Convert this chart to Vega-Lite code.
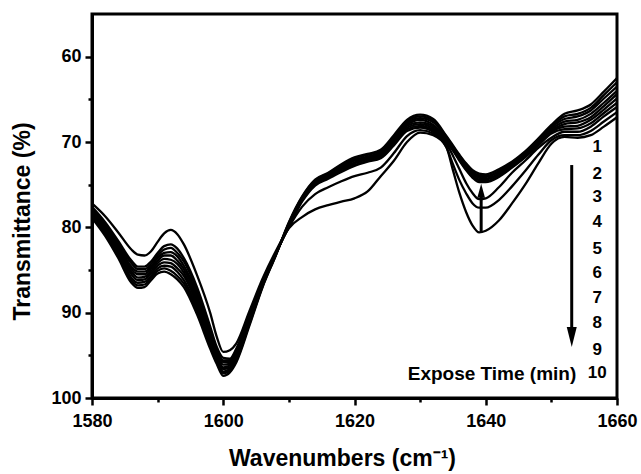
{
  "$schema": "https://vega.github.io/schema/vega-lite/v6.json",
  "width": 525,
  "height": 384,
  "autosize": "none",
  "padding": {"left": 92, "top": 14, "right": 24, "bottom": 76},
  "background": "white",
  "config": {"view": {"stroke": "black", "strokeWidth": 3}, "font": "Liberation Sans"},
  "layer": [
    {
      "data": {"values": [
        {"x":1580,"c1":77.2,"c2":77.6,"c3":77.8,"c4":77.9,"c5":78.1,"c6":78.3,"c7":78.4,"c8":78.6,"c9":78.7,"c10":78.9},
        {"x":1582,"c1":78.7,"c2":79.4,"c3":79.6,"c4":79.8,"c5":80.0,"c6":80.2,"c7":80.4,"c8":80.6,"c9":80.8,"c10":81.0},
        {"x":1584,"c1":80.6,"c2":81.6,"c3":81.9,"c4":82.1,"c5":82.4,"c6":82.6,"c7":82.9,"c8":83.1,"c9":83.4,"c10":83.6},
        {"x":1586,"c1":82.6,"c2":83.9,"c3":84.2,"c4":84.6,"c5":84.9,"c6":85.2,"c7":85.5,"c8":85.9,"c9":86.2,"c10":86.5},
        {"x":1587,"c1":83.2,"c2":84.6,"c3":84.9,"c4":85.2,"c5":85.5,"c6":85.9,"c7":86.2,"c8":86.5,"c9":86.8,"c10":87.1},
        {"x":1588,"c1":83.3,"c2":84.6,"c3":84.9,"c4":85.2,"c5":85.5,"c6":85.8,"c7":86.1,"c8":86.4,"c9":86.7,"c10":87.0},
        {"x":1589,"c1":82.8,"c2":84.0,"c3":84.3,"c4":84.6,"c5":84.8,"c6":85.1,"c7":85.4,"c8":85.7,"c9":85.9,"c10":86.2},
        {"x":1590,"c1":81.7,"c2":83.0,"c3":83.3,"c4":83.6,"c5":83.9,"c6":84.2,"c7":84.5,"c8":84.8,"c9":85.1,"c10":85.4},
        {"x":1591,"c1":80.7,"c2":82.2,"c3":82.6,"c4":83.0,"c5":83.3,"c6":83.7,"c7":84.1,"c8":84.5,"c9":84.8,"c10":85.2},
        {"x":1592,"c1":80.3,"c2":82.0,"c3":82.4,"c4":82.9,"c5":83.3,"c6":83.8,"c7":84.2,"c8":84.6,"c9":85.1,"c10":85.5},
        {"x":1593,"c1":80.8,"c2":82.5,"c3":83.0,"c4":83.4,"c5":83.9,"c6":84.3,"c7":84.8,"c8":85.2,"c9":85.7,"c10":86.1},
        {"x":1594,"c1":82.0,"c2":83.6,"c3":84.0,"c4":84.5,"c5":84.9,"c6":85.3,"c7":85.7,"c8":86.2,"c9":86.6,"c10":87.0},
        {"x":1596,"c1":85.6,"c2":87.0,"c3":87.4,"c4":87.8,"c5":88.2,"c6":88.6,"c7":89.0,"c8":89.4,"c9":89.8,"c10":90.2},
        {"x":1598,"c1":90.0,"c2":91.6,"c3":91.9,"c4":92.3,"c5":92.6,"c6":92.9,"c7":93.2,"c8":93.6,"c9":93.9,"c10":94.2},
        {"x":1599,"c1":92.8,"c2":94.0,"c3":94.3,"c4":94.5,"c5":94.8,"c6":95.0,"c7":95.3,"c8":95.5,"c9":95.8,"c10":96.0},
        {"x":1600,"c1":94.6,"c2":95.3,"c3":95.6,"c4":95.8,"c5":96.1,"c6":96.4,"c7":96.6,"c8":96.9,"c9":97.1,"c10":97.4},
        {"x":1601,"c1":94.4,"c2":95.4,"c3":95.6,"c4":95.8,"c5":96.0,"c6":96.2,"c7":96.4,"c8":96.6,"c9":96.8,"c10":97.0},
        {"x":1602,"c1":93.6,"c2":94.2,"c3":94.4,"c4":94.6,"c5":94.8,"c6":95.0,"c7":95.2,"c8":95.4,"c9":95.6,"c10":95.8},
        {"x":1604,"c1":89.8,"c2":90.2,"c3":90.4,"c4":90.5,"c5":90.7,"c6":90.9,"c7":91.0,"c8":91.2,"c9":91.3,"c10":91.5},
        {"x":1606,"c1":86.0,"c2":86.3,"c3":86.4,"c4":86.5,"c5":86.6,"c6":86.7,"c7":86.7,"c8":86.8,"c9":86.9,"c10":87.0},
        {"x":1608,"c1":82.8,"c2":83.0,"c3":83.0,"c4":83.1,"c5":83.1,"c6":83.2,"c7":83.2,"c8":83.2,"c9":83.3,"c10":83.3},
        {"x":1610,"c1":80.1,"c2":80.0,"c3":79.9,"c4":79.9,"c5":79.8,"c6":79.7,"c7":79.6,"c8":79.6,"c9":79.5,"c10":79.4},
        {"x":1612,"c1":78.8,"c2":77.6,"c3":77.0,"c4":76.9,"c5":76.8,"c6":76.7,"c7":76.7,"c8":76.6,"c9":76.5,"c10":76.4},
        {"x":1614,"c1":77.9,"c2":76.1,"c3":75.1,"c4":75.0,"c5":74.9,"c6":74.8,"c7":74.7,"c8":74.6,"c9":74.5,"c10":74.4},
        {"x":1616,"c1":77.4,"c2":75.3,"c3":74.3,"c4":74.2,"c5":74.1,"c6":74.0,"c7":73.9,"c8":73.8,"c9":73.7,"c10":73.6},
        {"x":1618,"c1":77.0,"c2":74.6,"c3":73.5,"c4":73.4,"c5":73.2,"c6":73.1,"c7":73.0,"c8":72.9,"c9":72.7,"c10":72.6},
        {"x":1620,"c1":76.6,"c2":74.0,"c3":72.8,"c4":72.7,"c5":72.5,"c6":72.4,"c7":72.2,"c8":72.1,"c9":71.9,"c10":71.8},
        {"x":1622,"c1":75.8,"c2":73.6,"c3":72.3,"c4":72.2,"c5":72.0,"c6":71.9,"c7":71.8,"c8":71.7,"c9":71.5,"c10":71.4},
        {"x":1624,"c1":74.0,"c2":73.0,"c3":71.9,"c4":71.8,"c5":71.6,"c6":71.5,"c7":71.3,"c8":71.2,"c9":71.0,"c10":70.9},
        {"x":1626,"c1":72.2,"c2":71.3,"c3":70.4,"c4":70.2,"c5":70.1,"c6":69.9,"c7":69.7,"c8":69.5,"c9":69.4,"c10":69.2},
        {"x":1628,"c1":70.0,"c2":69.3,"c3":68.7,"c4":68.5,"c5":68.3,"c6":68.1,"c7":68.0,"c8":67.8,"c9":67.6,"c10":67.4},
        {"x":1630,"c1":68.9,"c2":68.6,"c3":68.3,"c4":68.1,"c5":67.9,"c6":67.7,"c7":67.4,"c8":67.2,"c9":67.0,"c10":66.8},
        {"x":1632,"c1":69.2,"c2":69.0,"c3":68.8,"c4":68.6,"c5":68.4,"c6":68.2,"c7":68.0,"c8":67.7,"c9":67.5,"c10":67.3},
        {"x":1634,"c1":70.6,"c2":70.6,"c3":70.2,"c4":70.0,"c5":69.9,"c6":69.8,"c7":69.7,"c8":69.5,"c9":69.4,"c10":69.3},
        {"x":1635,"c1":73.3,"c2":72.6,"c3":71.6,"c4":71.0,"c5":70.9,"c6":70.8,"c7":70.7,"c8":70.6,"c9":70.5,"c10":70.4},
        {"x":1636,"c1":76.0,"c2":74.5,"c3":73.2,"c4":72.2,"c5":72.1,"c6":72.0,"c7":71.9,"c8":71.7,"c9":71.6,"c10":71.5},
        {"x":1637,"c1":78.2,"c2":76.0,"c3":74.8,"c4":73.3,"c5":73.2,"c6":73.0,"c7":72.9,"c8":72.8,"c9":72.6,"c10":72.5},
        {"x":1638,"c1":79.8,"c2":77.2,"c3":76.0,"c4":74.2,"c5":74.1,"c6":73.9,"c7":73.8,"c8":73.6,"c9":73.5,"c10":73.3},
        {"x":1639,"c1":80.6,"c2":77.7,"c3":76.7,"c4":74.7,"c5":74.5,"c6":74.4,"c7":74.2,"c8":74.0,"c9":73.9,"c10":73.7},
        {"x":1640,"c1":80.4,"c2":77.7,"c3":76.6,"c4":74.7,"c5":74.6,"c6":74.4,"c7":74.3,"c8":74.1,"c9":74.0,"c10":73.8},
        {"x":1642,"c1":79.2,"c2":76.8,"c3":75.3,"c4":74.1,"c5":74.0,"c6":73.8,"c7":73.7,"c8":73.5,"c9":73.4,"c10":73.2},
        {"x":1644,"c1":77.2,"c2":75.2,"c3":73.6,"c4":73.0,"c5":72.9,"c6":72.8,"c7":72.7,"c8":72.5,"c9":72.4,"c10":72.3},
        {"x":1646,"c1":75.0,"c2":73.4,"c3":72.2,"c4":71.8,"c5":71.7,"c6":71.6,"c7":71.5,"c8":71.3,"c9":71.2,"c10":71.1},
        {"x":1648,"c1":72.5,"c2":71.5,"c3":70.7,"c4":70.4,"c5":70.3,"c6":70.1,"c7":70.0,"c8":69.9,"c9":69.7,"c10":69.6},
        {"x":1650,"c1":70.2,"c2":69.8,"c3":69.5,"c4":69.0,"c5":68.8,"c6":68.7,"c7":68.5,"c8":68.3,"c9":68.2,"c10":68.0},
        {"x":1652,"c1":69.4,"c2":69.2,"c3":68.8,"c4":68.5,"c5":68.2,"c6":67.9,"c7":67.6,"c8":67.3,"c9":67.0,"c10":66.7},
        {"x":1654,"c1":69.5,"c2":69.2,"c3":68.8,"c4":68.4,"c5":68.1,"c6":67.7,"c7":67.4,"c8":67.0,"c9":66.7,"c10":66.3},
        {"x":1656,"c1":69.2,"c2":68.7,"c3":68.2,"c4":67.8,"c5":67.4,"c6":67.1,"c7":66.7,"c8":66.3,"c9":66.0,"c10":65.6},
        {"x":1658,"c1":68.2,"c2":67.6,"c3":67.0,"c4":66.6,"c5":66.2,"c6":65.8,"c7":65.4,"c8":64.9,"c9":64.5,"c10":64.1},
        {"x":1660,"c1":67.1,"c2":66.5,"c3":65.9,"c4":65.4,"c5":64.9,"c6":64.4,"c7":64.0,"c8":63.5,"c9":63.0,"c10":62.5}
      ]},
      "transform": [{"fold": ["c1","c2","c3","c4","c5","c6","c7","c8","c9","c10"], "as": ["curve", "T"]}],
      "mark": {"type": "line", "color": "black", "strokeWidth": 2.3, "interpolate": "monotone"},
      "encoding": {
        "x": {"field": "x", "type": "quantitative",
          "scale": {"domain": [1580, 1660], "nice": false, "zero": false},
          "axis": {
            "values": [1580,1590,1600,1610,1620,1630,1640,1650,1660],
            "format": "d",
            "labelExpr": "datum.value % 20 === 0 ? datum.label : ''",
            "tickSize": {"condition": {"test": "datum.value % 20 === 0", "value": 7}, "value": 4},
            "tickWidth": 2.5, "tickColor": "black",
            "domainWidth": 3, "domainColor": "black",
            "grid": false,
            "labelFont": "Liberation Sans", "labelFontSize": 18, "labelFontWeight": "bold", "labelColor": "black",
            "labelPadding": 7, "labelFlush": false,
            "title": "Wavenumbers (cm⁻¹)",
            "titleFont": "Liberation Sans", "titleFontSize": 23, "titleFontWeight": "bold", "titleColor": "black",
            "titlePadding": 17,
            "titleX": 250
          }
        },
        "y": {"field": "T", "type": "quantitative",
          "scale": {"domain": [55, 100], "nice": false, "zero": false, "reverse": true},
          "axis": {
            "values": [60,65,70,75,80,85,90,95,100],
            "format": "d",
            "labelExpr": "datum.value % 10 === 0 ? datum.label : ''",
            "tickSize": {"condition": {"test": "datum.value % 10 === 0", "value": 7}, "value": 4},
            "tickWidth": 2.5, "tickColor": "black",
            "domainWidth": 3, "domainColor": "black",
            "grid": false,
            "labelFont": "Liberation Sans", "labelFontSize": 18, "labelFontWeight": "bold", "labelColor": "black",
            "labelPadding": 4,
            "title": "Transmittance (%)",
            "titleFont": "Liberation Sans", "titleFontSize": 23, "titleFontWeight": "bold", "titleColor": "black",
            "titlePadding": 16,
            "titleY": 207
          }
        },
        "detail": {"field": "curve", "type": "nominal"}
      }
    },
    {
      "data": {"values": [
        {"x": 1653.1, "y1": 72.7, "y2": 93.0},
        {"x": 1639.3, "y1": 80.6, "y2": 75.8}
      ]},
      "mark": {"type": "rule", "color": "black", "strokeWidth": 3},
      "encoding": {
        "x": {"field": "x", "type": "quantitative"},
        "y": {"field": "y1", "type": "quantitative"},
        "y2": {"field": "y2"}
      }
    },
    {
      "data": {"values": [{"x": 1653.1, "y": 92.85}]},
      "mark": {"type": "point", "filled": true, "color": "black", "opacity": 1, "shape": "M -0.5 -1 L 0.5 -1 L 0 1 Z", "size": 400},
      "encoding": {
        "x": {"field": "x", "type": "quantitative"},
        "y": {"field": "y", "type": "quantitative"}
      }
    },
    {
      "data": {"values": [{"x": 1639.3, "y": 75.7}]},
      "mark": {"type": "point", "filled": true, "color": "black", "opacity": 1, "shape": "M -0.55 1 L 0.55 1 L 0 -1 Z", "size": 196},
      "encoding": {
        "x": {"field": "x", "type": "quantitative"},
        "y": {"field": "y", "type": "quantitative"}
      }
    },
    {
      "data": {"values": [
        {"label": "1", "x": 1657.0, "y": 70.6},
        {"label": "2", "x": 1657.0, "y": 73.7},
        {"label": "3", "x": 1657.0, "y": 76.5},
        {"label": "4", "x": 1657.0, "y": 79.4},
        {"label": "5", "x": 1657.0, "y": 82.5},
        {"label": "6", "x": 1657.0, "y": 85.4},
        {"label": "7", "x": 1657.0, "y": 88.3},
        {"label": "8", "x": 1657.0, "y": 91.2},
        {"label": "9", "x": 1657.0, "y": 94.4},
        {"label": "10", "x": 1657.0, "y": 97.1}
      ]},
      "mark": {"type": "text", "font": "Liberation Sans", "fontSize": 17, "fontWeight": "bold", "color": "black", "align": "center", "baseline": "middle"},
      "encoding": {
        "x": {"field": "x", "type": "quantitative"},
        "y": {"field": "y", "type": "quantitative"},
        "text": {"field": "label"}
      }
    },
    {
      "data": {"values": [{"label": "Expose Time (min)", "x": 1653.8, "y": 97.2}]},
      "mark": {"type": "text", "font": "Liberation Sans", "fontSize": 19, "fontWeight": "bold", "color": "black", "align": "right", "baseline": "middle"},
      "encoding": {
        "x": {"field": "x", "type": "quantitative"},
        "y": {"field": "y", "type": "quantitative"},
        "text": {"field": "label"}
      }
    }
  ]
}
